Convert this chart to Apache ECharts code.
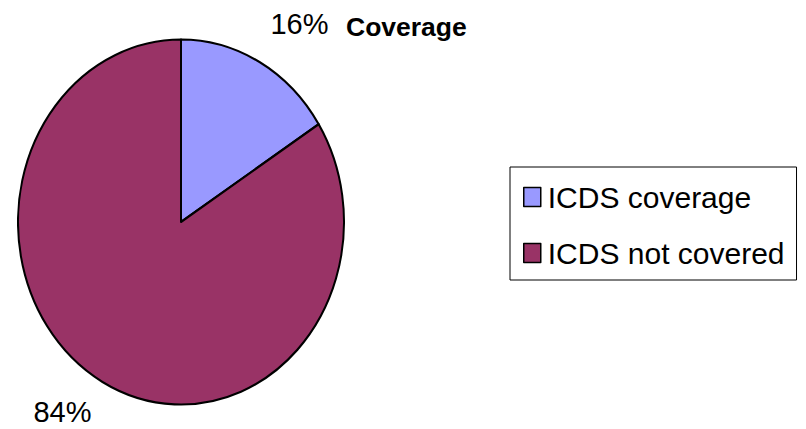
<!DOCTYPE html>
<html>
<head>
<meta charset="utf-8">
<script src="https://cdn.jsdelivr.net/npm/echarts@6/dist/echarts.min.js"></script>
<style>
  html, body { margin: 0; padding: 0; background: #fff; }
  #wrap { position: relative; width: 806px; height: 429px; overflow: hidden; }
  #pie { position: absolute; left: 0; top: 0; width: 806px; height: 429px;
         transform-origin: 181px 222px; transform: scaleY(1.1196); }
  #over { position: absolute; left: 0; top: 0; width: 806px; height: 429px; }
</style>
</head>
<body>
<div id="wrap">
  <div id="pie"></div>
  <div id="over"></div>
</div>
<script>
// ---- data ----
const categories = ['ICDS coverage', 'ICDS not covered'];
const values = [16, 84];
const titleText = 'Coverage';

// ---- style ----
const sliceColors = ['#9999FF', '#993366'];
const CX = 181, CY = 222, R = 163;
const LABEL_CY = 218, LABEL_RX = 246, LABEL_RY = 221;
const FONT = '"Liberation Sans", Arial, sans-serif';

const pieData = categories.map((c, i) => ({
  name: c, value: values[i], itemStyle: { color: sliceColors[i] }
}));
const total = values.reduce((a, b) => a + b, 0);
const cum = [];
values.reduce((acc, v, i) => { cum[i] = acc; return acc + v; }, 0);

// Pie drawn (stretched vertically into the ellipse of the reference)
const pieChart = echarts.init(document.getElementById('pie'), null, { renderer: 'svg' });
pieChart.setOption({
  animation: false,
  series: [{
    type: 'pie',
    silent: true,
    center: [CX, CY],
    radius: [0, R],
    startAngle: 90,
    clockwise: true,
    label: { show: false },
    labelLine: { show: false },
    itemStyle: { borderColor: '#000', borderWidth: 2 },
    data: pieData
  }]
});

// Overlay: labels, title, legend (unstretched text)
const over = echarts.init(document.getElementById('over'), null, { renderer: 'svg' });
over.setOption({
  animation: false,
  title: {
    text: titleText,
    left: 346, top: 13, padding: 0,
    textStyle: { fontFamily: FONT, fontSize: 26.5, fontWeight: 'bold', color: '#000' }
  },
  legend: {
    orient: 'vertical',
    left: 510, top: 167,
    padding: [15, 12, 12, 13],
    itemGap: 26,
    itemWidth: 17, itemHeight: 19,
    icon: 'rect',
    selectedMode: false,
    borderColor: '#000', borderWidth: 1, borderRadius: 0,
    itemStyle: { opacity: 1, borderColor: '#000', borderWidth: 1.5 },
    textStyle: { fontFamily: FONT, fontSize: 30, color: '#000', padding: [0, 0, 0, 2] },
    data: categories
  },
  series: [{
    type: 'pie',
    silent: true,
    center: [CX, CY],
    radius: [0, R],
    startAngle: 90,
    clockwise: true,
    avoidLabelOverlap: false,
    itemStyle: { opacity: 0 },
    labelLine: { show: false },
    label: {
      show: true,
      opacity: 1,
      position: 'outside',
      fontFamily: FONT, fontSize: 29, color: '#000',
      formatter: p => Math.round(p.percent) + '%'
    },
    labelLayout: function (params) {
      const i = params.dataIndex;
      const mid = (cum[i] + values[i] / 2) / total * Math.PI * 2;
      return {
        x: CX + LABEL_RX * Math.sin(mid),
        y: LABEL_CY - LABEL_RY * Math.cos(mid),
        align: 'center',
        verticalAlign: 'middle'
      };
    },
    data: pieData
  }]
});
</script>
</body>
</html>
